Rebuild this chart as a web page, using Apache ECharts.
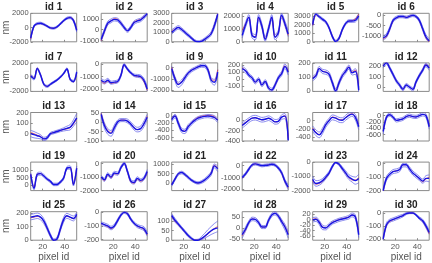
<!DOCTYPE html>
<html><head><meta charset="utf-8">
<script src="https://cdn.jsdelivr.net/npm/echarts@6/dist/echarts.min.js"></script>
<style>html,body{margin:0;padding:0;background:#fff}#c{width:432px;height:263px}</style>
</head><body><div id="c"></div>
<script>
const X = [9,12,15,18,21,24,27,30,33,36,39,42,45,48,51];
const xTicks = [20,40];
const panelIds = [1,2,3,4,5,6,7,8,9,10,11,12,13,14,15,16,17,18,19,20,21,22,23,24,25,26,27,28,29,30];

const m1=[-1500,200,550,600,450,200,-50,-100,100,500,950,1300,1400,1000,-400];
const u1=[-1300,350,700,750,580,320,60,20,230,640,1080,1450,1550,1180,-150];
const l1=[-1750,50,400,460,320,80,-170,-230,-30,360,820,1160,1250,820,-650];
const r1=[-1600,150,520,580,430,180,-60,-110,90,480,930,1280,1420,1080,-300];

const m2=[-900,-100,600,800,950,900,600,200,-100,200,650,800,900,1150,1450];
const u2=[-700,80,780,980,1100,1050,760,350,40,360,800,960,1060,1320,1500];
const l2=[-1050,-280,430,640,800,740,440,60,-230,60,500,650,740,1000,1300];
const r2=[-1000,-150,580,820,1000,950,620,210,-90,230,700,850,950,1200,1400];

const m3=[1000,1300,1500,1300,1000,700,400,100,0,50,250,500,850,1700,2900];
const u3=[1250,1500,1700,1480,1170,860,540,230,100,180,400,680,1050,1950,3000];
const l3=[800,1120,1320,1130,840,550,270,0,-50,0,120,340,680,1450,2700];
const r3=[1100,1350,1520,1320,1010,700,400,110,10,60,260,520,880,1750,2950];

const m4=[500,1300,1900,500,350,1900,1200,200,1000,1900,350,700,2050,1400,600];
const u4=[800,1500,2100,700,550,2100,1400,400,1200,2100,550,900,2200,1600,900];
const l4=[300,1100,1700,300,150,1700,1000,50,800,1700,150,500,1850,1200,400];
const r4=[900,1350,1900,520,380,1880,1180,220,1020,1880,380,720,2000,1350,500];

const m5=[2000,3200,2900,2600,2300,1600,600,50,400,1400,2100,2400,2400,2500,3000];
const u5=[2200,3350,3050,2750,2450,1750,750,180,550,1550,2250,2550,2550,2700,3250];
const l5=[1800,3050,2750,2450,2150,1450,450,-50,250,1250,1950,2250,2250,2300,2800];
const r5=[1900,3150,2900,2600,2300,1600,600,50,400,1400,2100,2400,2450,2650,3200];

const m6=[-1100,-1000,-650,-250,-120,-60,-60,-100,-50,0,-60,-250,-650,-1050,-1250];
const u6=[-1000,-900,-560,-170,-50,0,0,-40,10,50,0,-170,-560,-950,-1150];
const l6=[-1200,-1100,-740,-330,-190,-120,-120,-160,-110,-60,-120,-330,-740,-1150,-1320];
const r6=[-1150,-1050,-680,-260,-130,-70,-60,-100,-50,0,-60,-260,-670,-1100,-1300];

const m7=[200,-200,1200,300,-1000,-1300,-1000,-700,-400,0,500,1150,-300,-600,700];
const u7=[400,0,1350,450,-850,-1150,-870,-570,-270,130,630,1300,-150,-450,900];
const l7=[0,-400,1050,150,-1150,-1450,-1130,-830,-530,-130,370,1000,-450,-750,500];
const r7=[250,-150,1250,320,-1000,-1300,-1000,-700,-400,0,500,1150,-300,-650,600];

const m8=[-1300,-1450,-1300,-1500,-1450,-1400,-900,-50,-400,-700,-900,-950,-1000,-1300,-2000];
const u8=[-1150,-1300,-1150,-1380,-1330,-1280,-780,50,-300,-600,-800,-830,-880,-1150,-1800];
const l8=[-1450,-1600,-1450,-1620,-1570,-1520,-1020,-150,-500,-800,-1000,-1070,-1120,-1450,-2150];
const r8=[-1350,-1550,-1350,-1550,-1500,-1420,-900,-50,-420,-720,-920,-980,-1050,-1400,-2100];

const m9=[-100,-1000,-1500,-1300,-900,-500,-250,-100,50,150,150,-200,-1100,-1300,-400];
const u9=[100,-800,-1300,-1100,-720,-350,-120,20,170,280,300,-20,-900,-1050,-200];
const l9=[-300,-1200,-1750,-1550,-1100,-680,-400,-230,-80,20,0,-380,-1300,-1550,-600];
const r9=[0,-950,-1450,-1250,-870,-480,-240,-90,60,160,170,-150,-1000,-1200,-200];

const m10=[150,120,60,20,-40,0,-80,-30,-120,-150,-80,20,80,180,100];
const u10=[180,150,85,45,-15,25,-55,-5,-95,-125,-55,45,110,215,140];
const l10=[120,90,35,-5,-65,-25,-105,-55,-145,-170,-105,-5,50,150,60];
const r10=[160,125,60,20,-40,0,-80,-30,-120,-150,-80,20,85,190,120];

const m11=[90,110,160,140,135,120,60,5,60,110,140,170,130,140,10];
const u11=[105,125,175,155,150,135,75,20,75,125,155,185,145,160,30];
const l11=[75,95,145,125,120,105,45,-10,45,95,125,155,115,120,-10];
const r11=[95,115,162,142,136,120,60,5,60,110,142,172,135,150,20];

const m12=[200,230,180,120,60,20,-20,20,0,-20,50,110,160,210,180];
const u12=[215,245,195,135,75,35,-5,35,15,-5,65,125,175,225,200];
const l12=[185,215,165,105,45,5,-35,5,-15,-35,35,95,145,195,160];
const r12=[205,232,180,120,60,20,-20,20,0,-20,50,110,162,215,190];

const m13=[0,-10,-20,-30,-50,-40,0,10,20,30,40,50,60,100,150];
const u13=[30,20,5,-10,-35,-25,12,22,32,42,55,70,85,130,190];
const l13=[-30,-40,-45,-50,-65,-55,-12,-2,8,18,25,30,35,70,110];
const r13=[10,0,-15,-25,-50,-40,0,10,20,30,40,45,55,90,140];

const m14=[40,-20,-50,-60,-30,0,10,10,5,-10,-30,-40,-35,-10,25];
const u14=[50,-5,-35,-45,-15,10,18,18,15,0,-18,-28,-22,5,40];
const l14=[30,-35,-65,-75,-45,-10,2,2,-5,-20,-42,-52,-48,-25,10];
const r14=[45,-15,-45,-55,-28,0,10,10,5,-10,-30,-40,-35,-10,30];

const m15=[-100,0,-200,-400,-430,-300,-200,-120,-60,-30,-10,0,-10,-40,-120];
const u15=[-50,50,-140,-340,-370,-240,-150,-70,-15,15,30,45,40,10,-60];
const l15=[-150,-50,-260,-460,-490,-360,-250,-170,-105,-75,-50,-45,-60,-90,-180];
const r15=[-80,10,-190,-390,-420,-290,-190,-100,-40,-10,10,20,15,-20,-100];

const m16=[-100,-50,0,40,50,30,10,20,40,10,-30,-20,60,80,-380];
const u16=[-50,0,45,85,95,75,55,65,85,55,15,25,105,130,-300];
const l16=[-150,-100,-45,-5,5,-15,-35,-25,-5,-35,-75,-65,15,30,-400];
const r16=[-90,-40,5,40,50,30,10,20,40,10,-30,-20,60,90,-350];

const m17=[-200,-300,-350,-250,-100,0,80,60,20,10,70,130,160,80,-150];
const u17=[-130,-230,-280,-180,-40,60,140,120,80,70,130,190,200,150,-80];
const l17=[-270,-370,-420,-320,-160,-60,20,0,-40,-50,10,70,110,10,-220];
const r17=[-180,-290,-340,-240,-90,10,90,70,30,20,80,140,170,90,-120];

const m18=[-500,-50,30,-50,-150,-130,-100,-30,0,-30,-40,0,40,0,-350];
const u18=[-420,0,80,0,-100,-80,-50,20,50,20,10,50,90,60,-270];
const l18=[-580,-100,-20,-100,-200,-180,-150,-80,-50,-80,-90,-50,-10,-60,-430];
const r18=[-480,-40,30,-50,-150,-130,-100,-30,0,-30,-40,0,40,10,-330];

const m19=[700,-200,700,750,600,400,250,50,50,200,450,1100,1150,50,1100];
const u19=[800,-100,800,850,690,480,330,130,130,280,540,1200,1260,150,1250];
const l19=[600,-300,600,650,510,320,170,-30,-30,120,360,1000,1040,-50,950];
const r19=[720,-180,720,760,600,400,250,50,50,200,450,1100,1150,60,1100];

const m20=[-1000,-1200,-800,-1000,-700,-750,-300,0,-600,-1300,-1400,-1100,-1250,-1100,-600];
const u20=[-880,-1080,-680,-880,-580,-630,-190,100,-480,-1180,-1280,-980,-1130,-980,-450];
const l20=[-1120,-1320,-920,-1120,-820,-870,-410,-100,-720,-1420,-1520,-1220,-1370,-1220,-750];
const r20=[-1050,-1250,-850,-1050,-750,-780,-320,0,-620,-1350,-1450,-1150,-1300,-1150,-650];

const m21=[-100,200,480,550,450,300,150,50,0,50,150,300,500,900,750];
const u21=[-30,270,550,620,520,370,210,110,60,120,230,390,600,1000,900];
const l21=[-170,130,410,480,380,230,90,-10,-60,-20,70,210,400,800,600];
const r21=[-80,210,490,560,450,300,150,50,0,50,150,300,520,930,800];

const m22=[-1000,-700,-300,50,150,80,0,30,60,120,50,-200,-600,-1300,-1800];
const u22=[-880,-580,-180,150,250,180,100,130,160,220,150,-80,-470,-1150,-1600];
const l22=[-1120,-820,-420,-50,50,-20,-100,-70,-40,20,-50,-320,-730,-1450,-2000];
const r22=[-1050,-720,-300,50,150,80,0,30,60,120,50,-200,-620,-1350,-1850];

const m23=[-1200,-1500,-1450,-1300,-1050,-750,-300,-30,-150,-450,-750,-1050,-1200,-1300,-1150];
const u23=[-1000,-1300,-1280,-1150,-920,-640,-200,0,-60,-330,-600,-880,-1000,-1050,-850];
const l23=[-1400,-1700,-1620,-1450,-1180,-860,-400,-80,-240,-570,-900,-1220,-1400,-1550,-1450];
const r23=[-1300,-1550,-1500,-1350,-1100,-780,-320,-30,-160,-470,-780,-1080,-1250,-1250,-1100];

const m24=[-200,-110,-80,-60,-55,-45,-10,-10,-40,-70,-90,-110,-130,-110,-110];
const u24=[-185,-95,-65,-45,-40,-30,0,0,-25,-55,-75,-95,-115,-90,-85];
const l24=[-210,-125,-95,-75,-70,-60,-25,-25,-55,-85,-105,-125,-145,-130,-135];
const r24=[-200,-110,-80,-60,-55,-45,-10,-10,-40,-70,-90,-110,-135,-115,-100];

const m25=[170,175,180,170,140,90,35,0,10,80,150,180,170,160,190];
const u25=[190,195,200,190,158,105,48,10,22,95,168,198,188,178,205];
const l25=[150,155,160,150,122,75,22,-10,-2,65,132,162,152,142,175];
const r25=[165,170,175,168,138,88,34,0,10,80,150,178,168,158,185];

const m26=[-80,-90,-100,-115,-100,-60,-20,0,-10,-50,-80,-100,-110,-120,-160];
const u26=[-70,-78,-88,-102,-88,-48,-10,8,0,-40,-70,-88,-98,-105,-145];
const l26=[-90,-102,-112,-128,-112,-72,-30,-8,-20,-60,-90,-112,-122,-135,-175];
const r26=[-82,-92,-105,-120,-102,-60,-20,0,-10,-50,-82,-102,-112,-125,-165];

const m27=[130,105,85,65,45,25,10,0,0,8,20,35,50,60,65];
const u27=[140,115,92,72,52,32,16,4,5,18,35,55,72,88,100];
const l27=[120,95,77,58,38,18,5,-3,-3,2,10,20,30,38,45];
const r27=[125,100,82,62,43,24,9,0,0,6,18,32,48,62,72];

const m28=[-30,-5,25,42,40,25,5,5,35,60,68,55,30,5,-30];
const u28=[-20,5,33,50,48,33,12,12,43,68,76,63,40,18,-15];
const l28=[-45,-15,17,34,32,17,-2,-2,27,52,60,47,20,-8,-45];
const r28=[-35,-8,24,42,40,25,5,5,35,60,68,55,32,8,-25];

const m29=[0,2,-10,-28,-30,-20,-10,-5,0,3,6,10,18,10,-55];
const u29=[8,10,-2,-20,-23,-13,-4,1,6,9,12,17,25,18,-45];
const l29=[-8,-6,-18,-36,-37,-27,-16,-11,-6,-3,0,3,11,2,-65];
const r29=[2,4,-8,-26,-29,-19,-9,-4,1,4,7,11,18,12,-50];

const m30=[-200,-90,-60,-50,-40,-30,-20,-5,0,0,-15,-40,-60,-100,-150];
const u30=[-185,-75,-48,-38,-28,-18,-10,3,5,5,-8,-30,-48,-85,-135];
const l30=[-210,-105,-72,-62,-52,-42,-30,-13,-5,-5,-22,-50,-72,-115,-165];
const r30=[-200,-95,-65,-52,-40,-30,-20,-5,0,0,-15,-40,-62,-105,-160];

const yMin=[-2000,-1100,0,0,0,-1300, -2000,-2200,-2100,-170,0,-40, -70,-100,-700,-400,-500,-800, -350,-2000,-400,-2100,-2000,-200, 0,-205,0,-55,-75,-210];
const yMax=[2000,1500,3000,2200,3300,100, 2000,100,400,230,200,230, 200,50,100,150,200,100, 1500,100,1100,300,0,10, 210,5,150,75,30,10];
const yTicks=[
 [-2000,0,2000],[-1000,0,1000],[0,1000,2000,3000],[0,1000,2000],[0,1000,2000,3000],[-1000,-500,0],
 [-2000,0,2000],[-2000,-1000,0],[-2000,-1000,0],[-100,0,100,200],[0,100,200],[0,100,200],
 [0,100,200],[-100,-50,0,50],[-600,-400,-200,0],[-400,-200,0],[-400,-200,0],[-600,-400,-200,0],
 [0,500,1000],[-2000,-1000,0],[0,500,1000],[-2000,-1000,0],[-2000,-1000,0],[-200,-100,0],
 [0,100,200],[-200,-100,0],[0,50,100],[-50,0,50],[-60,-40,-20,0,20],[-200,-100,0]
];

const MEAN=[m1,m2,m3,m4,m5,m6,m7,m8,m9,m10,m11,m12,m13,m14,m15,m16,m17,m18,m19,m20,m21,m22,m23,m24,m25,m26,m27,m28,m29,m30];
const UP=[u1,u2,u3,u4,u5,u6,u7,u8,u9,u10,u11,u12,u13,u14,u15,u16,u17,u18,u19,u20,u21,u22,u23,u24,u25,u26,u27,u28,u29,u30];
const LO=[l1,l2,l3,l4,l5,l6,l7,l8,l9,l10,l11,l12,l13,l14,l15,l16,l17,l18,l19,l20,l21,l22,l23,l24,l25,l26,l27,l28,l29,l30];
const RED=[r1,r2,r3,r4,r5,r6,r7,r8,r9,r10,r11,r12,r13,r14,r15,r16,r17,r18,r19,r20,r21,r22,r23,r24,r25,r26,r27,r28,r29,r30];

const FONT='Liberation Sans';
const GL=30.7, GDX=70.5, GW=46, GT=13.3, GDY=49.6, GH=28.5;
const grids=[],xAxes=[],yAxes=[],series=[],graphics=[];
const pairs=a=>X.map((x,k)=>[x,a[k]]);
const fmt=v=>String(v);
const lefts=[],tops=[];
for(let i=0;i<30;i++){
  const c=i%6, r=Math.floor(i/6);
  const left=GL+GDX*c, top=GT+GDY*r;
  lefts.push(left);tops.push(top);
  grids.push({left:left,top:top,width:GW,height:GH,show:true,borderColor:'#8a8a8a',borderWidth:1,backgroundColor:'#fff',containLabel:false});
  xAxes.push({gridIndex:i,type:'value',min:9,max:51,position:'bottom',
    axisLine:{show:false,onZero:false},splitLine:{show:false},
    axisTick:{show:true,inside:true,length:2,lineStyle:{color:'#8a8a8a'},customValues:xTicks},
    axisLabel:{show:r===4,customValues:xTicks,formatter:fmt,hideOverlap:false,fontSize:8,color:'#555',margin:3,fontFamily:FONT}});
  yAxes.push({gridIndex:i,type:'value',min:yMin[i],max:yMax[i],position:'left',
    axisLine:{show:false,onZero:false},splitLine:{show:false},
    axisTick:{show:true,inside:true,length:2,lineStyle:{color:'#8a8a8a'},customValues:yTicks[i]},
    axisLabel:{show:false}});
  const base={type:'line',xAxisIndex:i,yAxisIndex:i,showSymbol:false,smooth:0.35,silent:true,clip:true};
  series.push(Object.assign({},base,{data:pairs(UP[i]),lineStyle:{color:'#5a5ae6',width:0.7}}));
  series.push(Object.assign({},base,{data:pairs(LO[i]),lineStyle:{color:'#5a5ae6',width:0.7}}));
  series.push(Object.assign({},base,{data:pairs(RED[i]),lineStyle:{color:'#e03030',width:0.7}}));
  series.push(Object.assign({},base,{data:pairs(MEAN[i]),lineStyle:{color:'#1414e6',width:1.4}}));
  graphics.push({type:'text',x:left+GW/2,y:top-6,style:{text:'id '+panelIds[i],textAlign:'center',textVerticalAlign:'middle',font:'bold 10px '+FONT,fill:'#222'}});
  if(c===0) graphics.push({type:'text',x:6,y:top+GH/2,rotation:Math.PI/2,style:{text:'nm',textAlign:'center',textVerticalAlign:'middle',font:'10px '+FONT,fill:'#555'}});
  if(r===4) graphics.push({type:'text',x:left+GW/2,y:257.5,style:{text:'pixel id',textAlign:'center',textVerticalAlign:'middle',font:'10px '+FONT,fill:'#555'}});
}
const chart=echarts.init(document.getElementById('c'),null,{renderer:'canvas'});
chart.setOption({animation:false,backgroundColor:'#fff',grid:grids,xAxis:xAxes,yAxis:yAxes,series:series,graphic:graphics});
// y tick labels placed via the library's own y scales
const yLabels=[];
for(let i=0;i<30;i++){
  yTicks[i].forEach(v=>{
    const p=chart.convertToPixel({xAxisIndex:i,yAxisIndex:i},[9,v]);
    yLabels.push({type:'text',x:lefts[i]-2,y:p[1],style:{text:String(v),textAlign:'right',textVerticalAlign:'middle',font:'7.5px '+FONT,fill:'#555'}});
  });
}
chart.setOption({graphic:graphics.concat(yLabels)});
</script></body></html>
